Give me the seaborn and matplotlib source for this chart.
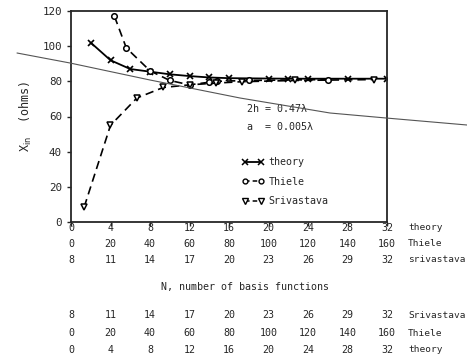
import matplotlib
matplotlib.use("Agg")
import matplotlib.pyplot as plt
import matplotlib.transforms as mtransforms
from matplotlib.lines import Line2D
import seaborn as sns
import pandas as pd

# theory: x in N (0..32)
theory_n = [2, 4, 6, 8, 10, 12, 14, 16, 20, 22, 24, 28, 32]
theory_x = [102, 92, 87, 85.5, 84, 83, 82.2, 81.8, 81.6, 81.5, 81.5, 81.5, 81.5]

# Thiele: x on the 0..160 scale
thiele_n = [22, 28, 40, 50, 60, 70, 74, 90, 130]
thiele_x = [117, 99, 86, 80.5, 78, 79.5, 80, 80.5, 81]

# Srivastava: x on the 8..32 scale
sriv_n = [9, 11, 13, 15, 17, 19, 21, 25, 31]
sriv_x = [8.5, 55, 70.5, 76.5, 78, 79, 79.8, 80.5, 81]

theory_ticks = [0, 4, 8, 12, 16, 20, 24, 28, 32]
thiele_ticks = [0, 20, 40, 60, 80, 100, 120, 140, 160]
sriv_ticks = [8, 11, 14, 17, 20, 23, 26, 29, 32]
y_ticks = [0, 20, 40, 60, 80, 100, 120]

sns.set_style("ticks")
plt.rcParams["font.family"] = ["DejaVu Sans Mono", "DejaVu Sans"]
plt.rcParams["font.size"] = 7.2

W, H = 467, 356
fig = plt.figure(figsize=(W / 100, H / 100), dpi=100)
ax = fig.add_axes([71 / W, 1 - 222 / H, 316 / W, 211 / H])
ax_th = ax.twiny()
ax_sr = ax.twiny()

ax.set_xlim(0, 32)
ax.set_ylim(0, 120)
ax_th.set_xlim(0, 160)
ax_sr.set_xlim(8, 32)
for a in (ax_th, ax_sr):
    a.set_axis_off()

sns.lineplot(data=pd.DataFrame({"N": theory_n, "X": theory_x}), x="N", y="X", ax=ax,
             color="black", lw=1.3, marker="x", markersize=5, mew=1.2,
             markeredgecolor="black", legend=False)
sns.lineplot(data=pd.DataFrame({"N": thiele_n, "X": thiele_x}), x="N", y="X", ax=ax_th,
             color="black", lw=1.2, linestyle=(0, (5, 3)), marker="o", markersize=4,
             mfc="white", mec="black", mew=1.1, legend=False)
sns.lineplot(data=pd.DataFrame({"N": sriv_n, "X": sriv_x}), x="N", y="X", ax=ax_sr,
             color="black", lw=1.2, linestyle=(0, (5, 3)), marker="v", markersize=4.5,
             mfc="white", mec="black", mew=1.1, legend=False)

for s in ax.spines.values():
    s.set_linewidth(1.3)
    s.set_visible(True)
ax.set_yticks(y_ticks)
ax.set_xticks(theory_ticks)
ax.set_xticklabels([])
ax.tick_params(axis="both", direction="out", length=3, width=1, labelsize=7.8)
ax.set_xlabel("")
ax.set_ylabel("X$_{\\mathrm{in}}$  (ohms)", fontsize=8.5, labelpad=6)

# tick label rows below the axis, each on its own scale
rows = [
    (ax, theory_ticks, 228, "theory"),
    (ax_th, thiele_ticks, 244, "Thiele"),
    (ax_sr, sriv_ticks, 260, "srivastava"),
    (ax_sr, sriv_ticks, 315, "Srivastava"),
    (ax_th, thiele_ticks, 333, "Thiele"),
    (ax, theory_ticks, 350, "theory"),
]
for a, ticks, ypx, name in rows:
    tr = mtransforms.blended_transform_factory(a.transData, fig.transFigure)
    for t in ticks:
        fig.text(t, 1 - ypx / H, str(t), transform=tr, ha="center", va="center")
    fig.text(408 / W, 1 - ypx / H, name, ha="left", va="center", fontsize=6.8)

fig.text(245 / W, 1 - 287 / H, "N, number of basis functions", ha="center", va="center")

ax.text(17.8, 64, "2h = 0.47λ", ha="left", va="center")
ax.text(17.8, 54, "a  = 0.005λ", ha="left", va="center")

handles = [
    Line2D([], [], color="black", lw=1.3, marker="x", markersize=4, mew=1.1),
    Line2D([], [], color="black", lw=1.1, linestyle=(0, (3, 2)), marker="o", markersize=3.5,
           mfc="white", mec="black", mew=1),
    Line2D([], [], color="black", lw=1.1, linestyle=(0, (3, 2)), marker="v", markersize=4,
           mfc="white", mec="black", mew=1),
]
ax.legend(handles, ["theory", "Thiele", "Srivastava"], loc="upper left",
          bbox_to_anchor=(0.53, 0.325), frameon=False, numpoints=2, handlelength=2.2,
          handletextpad=0.4, labelspacing=0.95, borderaxespad=0)

# stray scan line across the page
sx = [17, 70, 150, 240, 330, 386, 467]
sy = [53, 63, 80, 98, 113, 118, 125]
fig.add_artist(Line2D([x / W for x in sx], [1 - y / H for y in sy],
                      transform=fig.transFigure, color="#555555", lw=0.8))

fig.savefig("out.png", dpi=100)
